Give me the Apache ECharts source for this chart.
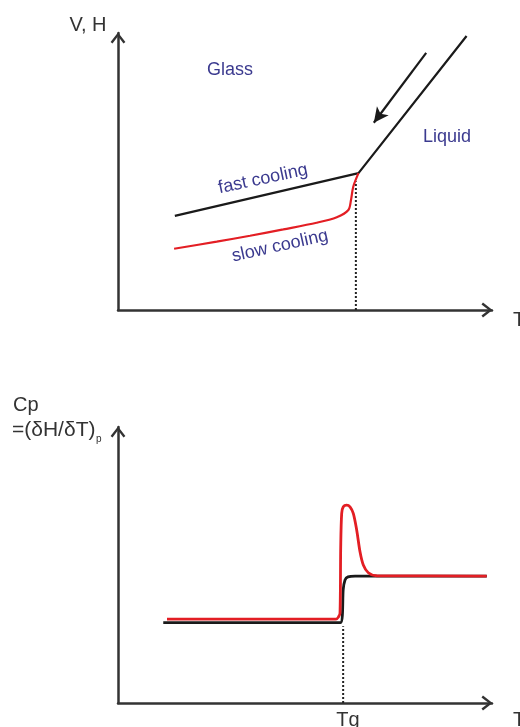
<!DOCTYPE html>
<html>
<head>
<meta charset="utf-8">
<script src="https://cdn.jsdelivr.net/npm/echarts@6/dist/echarts.min.js"></script>
<style>
  html, body { margin: 0; padding: 0; background: #fff; }
  #chart { width: 520px; height: 727px; }
</style>
</head>
<body>
<div id="chart"></div>
<script>
// top panel: V, H vs T  (x and y both 0..100, arbitrary units)
const glassFast = [[15.2, 34.0], [64.3, 49.4], [93.2, 98.9]];
const glassSlow = [
  [15.0, 22.1], [26.4, 24.7], [35.3, 26.8], [44.2, 29.1], [53.1, 31.5],
  [58.5, 33.5], [61.6, 36.1], [62.3, 39.7], [62.9, 44.5], [64.3, 49.4]
];
const coolingArrow = [[82.4, 92.8], [68.4, 67.6]];
const tgTop = [[63.6, 0], [63.6, 46.5]];

// bottom panel: Cp vs T
const cpFast = [
  [12.1, 29.1], [59.5, 29.1], [60.0, 31.9], [60.2, 40.9], [60.7, 44.6],
  [61.5, 45.7], [63.4, 46.0], [98.6, 46.0]
];
const cpSlow = [
  [13.1, 30.4], [58.3, 30.4], [58.96, 31.2], [59.36, 32.5], [59.55, 56.6],
  [59.81, 68.7], [60.24, 71.1], [61.15, 71.7], [62.03, 71.1], [62.91, 68.7],
  [63.82, 62.7], [64.71, 54.8], [65.59, 50.0], [66.93, 47.2], [69.17, 46.1],
  [98.58, 46.0]
];
const tgBottom = [[60.2, 0], [60.2, 27.8]];

const FONT = '"Liberation Sans", Arial, sans-serif';
const AXIS_COLOR = '#333';
const TEXT_BLUE = '#3b3a8f';
// open chevron arrow head, pointing up
const chevron = 'path://M0,9 L7,0 L14,9 L12.2,10.4 L7,3.6 L1.8,10.4 Z';

const chart = echarts.init(document.getElementById('chart'));

const makeAxis = (gridIndex) => ({
  type: 'value',
  gridIndex: gridIndex,
  min: 0,
  max: 100,
  axisLine: {
    show: true,
    symbol: ['none', chevron],
    symbolSize: [15, 11],
    symbolOffset: [0, -5],
    lineStyle: { color: AXIS_COLOR, width: 2.5 }
  },
  axisTick: { show: false },
  axisLabel: { show: false },
  splitLine: { show: false }
});

const txt = (text, x, y, size, color, extra) => ({
  type: 'text',
  x: x,
  y: y,
  ...(extra || {}),
  style: Object.assign({
    text: text,
    font: size + 'px ' + FONT,
    fill: color,
    textAlign: 'center',
    textVerticalAlign: 'middle'
  }, (extra && extra.style) || {})
});

const dotted = (data, xi) => ({
  type: 'line',
  xAxisIndex: xi,
  yAxisIndex: xi,
  data: data,
  showSymbol: false,
  lineStyle: { color: '#222', width: 2, type: [2, 2] },
  z: 1
});

const option = {
  animation: false,
  grid: [
    { left: 118, top: 33, width: 374, height: 277 },
    { left: 118, top: 427, width: 374, height: 276 }
  ],
  xAxis: [makeAxis(0), makeAxis(1)],
  yAxis: [makeAxis(0), makeAxis(1)],
  series: [
    dotted(tgTop, 0),
    {
      type: 'line',
      name: 'fast cooling',
      xAxisIndex: 0,
      yAxisIndex: 0,
      data: glassFast,
      showSymbol: false,
      lineStyle: { color: '#1a1a1a', width: 2.2 },
      markLine: {
        silent: true,
        symbol: ['none', 'arrow'],
        symbolSize: [11, 15],
        label: { show: false },
        lineStyle: { color: '#1a1a1a', width: 2.2, type: 'solid' },
        data: [[{ coord: coolingArrow[0] }, { coord: coolingArrow[1] }]]
      }
    },
    {
      type: 'line',
      name: 'slow cooling',
      xAxisIndex: 0,
      yAxisIndex: 0,
      data: glassSlow,
      showSymbol: false,
      smooth: 0.3,
      lineStyle: { color: '#e31e24', width: 2.2 }
    },
    dotted(tgBottom, 1),
    {
      type: 'line',
      xAxisIndex: 1,
      yAxisIndex: 1,
      data: cpFast,
      showSymbol: false,
      smooth: 0.2,
      lineStyle: { color: '#1a1a1a', width: 2.8 }
    },
    {
      type: 'line',
      xAxisIndex: 1,
      yAxisIndex: 1,
      data: cpSlow,
      showSymbol: false,
      smooth: 0.3,
      lineStyle: { color: '#e31e24', width: 2.8 }
    }
  ],
  graphic: [
    txt('V, H', 88, 25, 20, AXIS_COLOR),
    txt('T', 513, 320, 20, AXIS_COLOR, { style: { textAlign: 'left' } }),
    txt('Glass', 230, 70, 18, TEXT_BLUE),
    txt('Liquid', 447, 137, 18, TEXT_BLUE),
    txt('fast cooling', 263, 179, 18, TEXT_BLUE, { rotation: 12 * Math.PI / 180 }),
    txt('slow cooling', 280, 246, 18, TEXT_BLUE, { rotation: 12.5 * Math.PI / 180 }),
    txt('Cp', 13, 405, 20, AXIS_COLOR, { style: { textAlign: 'left' } }),
    txt('=(δH/δT)', 12, 430, 21, AXIS_COLOR, { style: { textAlign: 'left' } }),
    txt('p', 96, 439, 10, AXIS_COLOR, { style: { textAlign: 'left' } }),
    txt('Tg', 348, 720, 20, AXIS_COLOR),
    txt('T', 513, 720, 20, AXIS_COLOR, { style: { textAlign: 'left' } })
  ]
};

chart.setOption(option);
</script>
</body>
</html>
